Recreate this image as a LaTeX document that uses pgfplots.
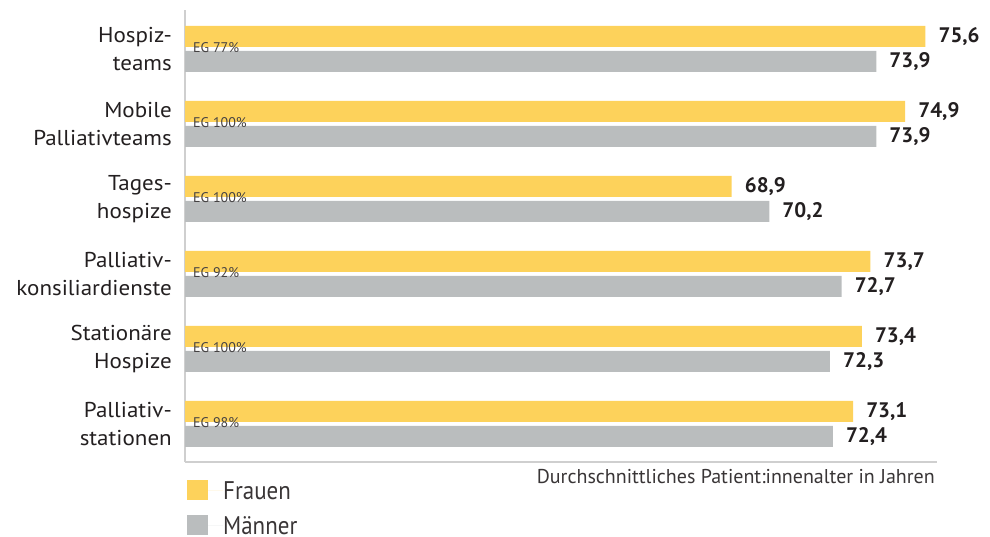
\documentclass[border=0pt]{standalone}
\usepackage{pgfplots}
\pgfplotsset{compat=1.18}
\usepackage{fontspec}
\setmainfont{PT Sans}
\newfontfamily\condfont[FakeStretch=0.9]{PT Sans}
\newfontfamily\widefont[FakeStretch=1.07]{PT Sans}
\definecolor{fyellow}{HTML}{FDD25B}
\definecolor{mgray}{HTML}{BABDBE}
\definecolor{axgray}{HTML}{CFCFCF}
\definecolor{txt}{HTML}{231F20}
\begin{document}
\begin{tikzpicture}[x=1pt,y=1pt]
\path[use as bounding box] (0,0) rectangle (990,536);
\begin{axis}[
  at={(185pt,74pt)}, anchor=south west,
  scale only axis, width=752pt, height=452pt,
  xmin=50, xmax=76, ymin=-0.507, ymax=5.52,
  clip mode=individual,
  xbar, bar width=21pt,
  axis lines*=left,
  axis line style={draw=axgray, line width=2pt},
  xtick=\empty,
  ytick={0,1,2,3,4,5},
  yticklabels={{Palliativ-\\stationen},{Stationäre\\Hospize},{Palliativ-\\konsiliardienste},{Tages-\\hospize},{Mobile\\Palliativteams},{Hospiz-\\teams}},
  major tick length=0pt,
  yticklabel style={align=right, inner sep=0pt, xshift=-13pt, text=txt,
    font=\widefont\fontsize{21.5}{28.4}\selectfont},
  point meta=x,
  nodes near coords={\pgfmathprintnumber[fixed,fixed zerofill,precision=1,use comma,assume math mode=true]{\pgfplotspointmeta}},
  every node near coord/.append style={anchor=west, inner sep=0pt, xshift=13pt,
    text=txt, font=\bfseries\fontsize{21}{25}\selectfont},
  legend image code/.code={\path[#1] (0pt,-10pt) rectangle (21pt,10pt);
    \path (21pt,0pt) -- (36pt,0pt);},
  legend style={at={(0,0)}, anchor=north west, xshift=2pt, yshift=-18pt,
    draw=none, fill=none, inner sep=0pt, row sep=15pt,
    font=\condfont\fontsize{25.5}{28}\selectfont, text=txt!90,
    nodes={inner sep=0pt, text depth=0pt}},
  legend cell align=left,
]
\addplot[fill=fyellow, draw=none, bar shift=12.5pt] coordinates {
  (73.1,0) (73.4,1) (73.7,2) (68.9,3) (74.9,4) (75.6,5)};
\addplot[fill=mgray, draw=none, bar shift=-12.5pt] coordinates {
  (72.4,0) (72.3,1) (72.7,2) (70.2,3) (73.9,4) (73.9,5)};
\legend{Frauen, Männer}
\foreach \yy/\lab in {5/77,4/100,3/100,2/92,1/100,0/98}{
  \edef\tmp{\noexpand\node[anchor=west, inner sep=0pt, xshift=8pt, yshift=1.5pt,
    text=txt!85, font=\noexpand\fontsize{14}{14}\noexpand\selectfont]
    at (axis cs:50,\yy) {EG \lab\noexpand\%};}
  \tmp
}
\node[anchor=north east, inner sep=0pt, xshift=-2pt, yshift=-7pt, text=txt!90,
  font=\fontsize{20}{22}\selectfont] at (rel axis cs:1,0)
  {Durchschnittliches Patient:innenalter in Jahren};
\end{axis}
\end{tikzpicture}
\end{document}
